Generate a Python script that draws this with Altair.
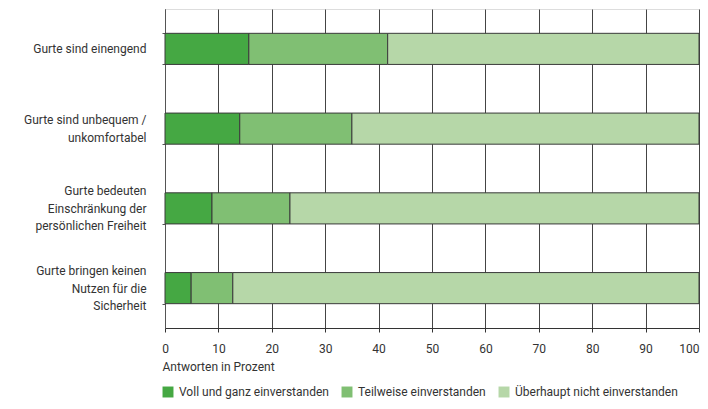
import altair as alt
import pandas as pd

statements = [
    "Gurte sind einengend",
    "Gurte sind unbequem /|unkomfortabel",
    "Gurte bedeuten|Einschränkung der|persönlichen Freiheit",
    "Gurte bringen keinen|Nutzen für die|Sicherheit",
]
categories = ["Voll und ganz einverstanden", "Teilweise einverstanden", "Überhaupt nicht einverstanden"]
voll = [15.7, 14.0, 8.8, 4.9]
teilweise = [26.0, 21.0, 14.6, 7.8]
ueberhaupt = [58.3, 65.0, 76.6, 87.3]
colors = ["#45a843", "#80bf73", "#b6d7a8"]
x_ticks = [0, 10, 20, 30, 40, 50, 60, 70, 80, 90, 100]

rows = []
for i, s in enumerate(statements):
    for j, (cat, vals) in enumerate(zip(categories, [voll, teilweise, ueberhaupt])):
        rows.append({"Aussage": s, "Kategorie": cat, "Wert": vals[i], "ord": j})
df = pd.DataFrame(rows)

FONT = "Roboto"
FS = 12
TXT = "#333333"
LH = 17.5

chart = alt.Chart(df).mark_bar(stroke="#3a3a3a", strokeWidth=1).encode(
    y=alt.Y("Aussage:N", sort=statements, title=None,
            scale=alt.Scale(paddingInner=0.61, paddingOuter=0.305),
            axis=alt.Axis(labelExpr="isValid(datum.value) ? split(datum.value, '|') : ''",
                          labelOffset={"expr": f"isValid(datum.value) ? -(length(split(datum.value, '|')) - 1) * {LH / 2} : 0"},
                          tickBand="extent",
                          labelFont=FONT, labelFontSize=FS, labelColor=TXT,
                          labelLineHeight=LH, labelPadding=16, tickSize=3,
                          tickColor="#555", domainColor="#555", grid=False,
                          labelLimit=200)),
    x=alt.X("Wert:Q", stack="zero", title="Antworten in Prozent",
            scale=alt.Scale(domain=[0, 100], nice=False),
            axis=alt.Axis(values=x_ticks, tickSize=4, tickColor="#333", domainColor="#333",
                          grid=True, gridColor="#444", gridWidth=1,
                          labelFont=FONT, labelFontSize=FS, labelColor=TXT, labelPadding=11,
                          labelAlign={"expr": "datum.value == 100 ? 'right' : 'center'"},
                          titleFont=FONT, titleFontSize=FS, titleColor=TXT, titleFontWeight="normal",
                          titleAnchor="start", titleAlign="left", titleX=-3, titlePadding=7,
                          labelFlush=False)),
    color=alt.Color("Kategorie:N", sort=categories,
                    scale=alt.Scale(domain=categories, range=colors),
                    legend=alt.Legend(title=None, orient="none", direction="horizontal",
                                      legendX=-3, legendY=377, symbolType="square",
                                      symbolSize=120, symbolStrokeWidth=0, symbolOpacity=1,
                                      labelFont=FONT, labelFontSize=FS, labelColor=TXT,
                                      labelLimit=300, columnPadding=12, labelOffset=5)),
    order=alt.Order("ord:Q"),
).properties(
    width=534, height=319,
    autosize=alt.AutoSizeParams(type="none"),
    padding={"left": 157, "top": 1, "right": 1, "bottom": 73},
).configure_view(stroke="#888", strokeWidth=1.5).configure(background="white")

chart.save("out.html", embed_options={"renderer": "svg", "actions": False})
